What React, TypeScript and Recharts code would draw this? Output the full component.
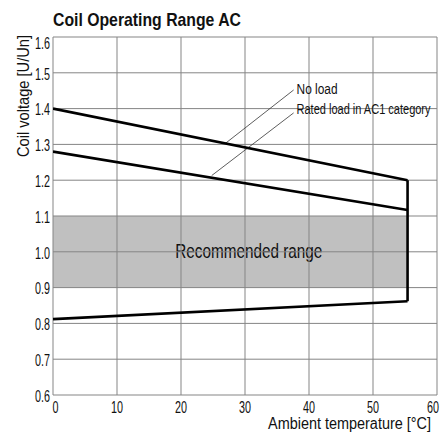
import React from "react";
import {
  LineChart,
  Line,
  XAxis,
  YAxis,
  ReferenceArea,
  ReferenceLine,
  ReferenceDot,
} from "recharts";

const xTicks = [0, 10, 20, 30, 40, 50, 60];
const yTicks = [0.6, 0.7, 0.8, 0.9, 1.0, 1.1, 1.2, 1.3, 1.4, 1.5, 1.6];

const noLoad = [
  { t: 0, v: 1.4 },
  { t: 55.4, v: 1.2 },
];
const ratedLoad = [
  { t: 0, v: 1.28 },
  { t: 55.4, v: 1.117 },
];
const lowerLimit = [
  { t: 0, v: 0.812 },
  { t: 55.4, v: 0.862 },
];
const rightEdge = [
  { t: 55.4, v: 1.2 },
  { t: 55.4, v: 0.862 },
];

const recommended = { t1: 0, t2: 55.4, v1: 0.9, v2: 1.1 };

const FONT = "'Liberation Sans', Arial, sans-serif";
const GRID = "#858585";
const INK = "#111";

const XTick = (props: any) => {
  const { x, y, payload } = props;
  const v = payload.value;
  const anchor = v === 0 ? "start" : v === 60 ? "end" : "middle";
  const dx = v === 0 ? -0.5 : v === 60 ? 3 : 0;
  const len = String(v).length === 1 ? 6 : 12;
  return (
    <text
      x={x + dx}
      y={y + 18}
      textAnchor={anchor}
      fontFamily={FONT}
      fontSize={16}
      fill={INK}
      textLength={len}
      lengthAdjust="spacingAndGlyphs"
    >
      {v}
    </text>
  );
};

const YTick = (props: any) => {
  const { x, y, payload } = props;
  const v = payload.value;
  const dy = v === 1.6 ? 6 : 1;
  return (
    <text
      x={x}
      y={y + dy}
      dy="0.36em"
      textAnchor="end"
      fontFamily={FONT}
      fontSize={16}
      fill={INK}
      textLength={15}
      lengthAdjust="spacingAndGlyphs"
    >
      {v.toFixed(1)}
    </text>
  );
};

const CenterLabel = (props: any) => {
  const vb = props.viewBox || {};
  return (
    <text
      x={vb.x + vb.width / 2}
      y={vb.y + vb.height / 2}
      dy="0.36em"
      textAnchor="middle"
      fontFamily={FONT}
      fontSize={20}
      fill={INK}
      textLength={147}
      lengthAdjust="spacingAndGlyphs"
    >
      {props.value}
    </text>
  );
};

const RightLabel = (props: any) => {
  const vb = props.viewBox || {};
  return (
    <text
      x={vb.x + 1}
      y={vb.y}
      dy="0.36em"
      textAnchor="start"
      fontFamily={FONT}
      fontSize={14}
      fill={INK}
      textLength={props.len}
      lengthAdjust="spacingAndGlyphs"
    >
      {props.value}
    </text>
  );
};

export default function App() {
  return (
    <div style={{ position: "absolute", left: 0, top: 0, width: 444, height: 435, background: "#fff" }}>
      <LineChart width={444} height={435} margin={{ top: 37, right: 7, bottom: 0, left: 0 }}>
        <XAxis
          type="number"
          dataKey="t"
          domain={[0, 60]}
          ticks={xTicks}
          tick={<XTick />}
          tickLine={false}
          axisLine={false}
          tickSize={0}
          tickMargin={0}
          height={40}
          allowDataOverflow
        />
        <YAxis
          type="number"
          dataKey="v"
          domain={[0.6, 1.6]}
          ticks={yTicks}
          tick={<YTick />}
          tickLine={false}
          axisLine={false}
          tickSize={0}
          tickMargin={3}
          width={53}
          allowDataOverflow
        />
        <ReferenceArea
          x1={recommended.t1}
          x2={recommended.t2}
          y1={recommended.v1}
          y2={recommended.v2}
          fill="#c0c0c0"
          fillOpacity={1}
          stroke="none"
        />
        {xTicks.map((t) => (
          <ReferenceLine key={"gx" + t} x={t} stroke={GRID} strokeWidth={1} ifOverflow="visible" />
        ))}
        {yTicks.map((v) => (
          <ReferenceLine key={"gy" + v} y={v} stroke={GRID} strokeWidth={1} ifOverflow="visible" />
        ))}
        <ReferenceArea
          x1={17.7}
          x2={43.5}
          y1={0.958}
          y2={1.05}
          fill="#c0c0c0"
          fillOpacity={1}
          stroke="none"
          label={<CenterLabel value="Recommended range" />}
        />
        <ReferenceArea x1={37.4} x2={59.3} y1={1.365} y2={1.483} fill="#fff" fillOpacity={1} stroke="none" />
        <ReferenceLine
          segment={[
            { x: 37.6, y: 1.452 },
            { x: 26.95, y: 1.303 },
          ]}
          stroke="#333"
          strokeWidth={0.8}
        />
        <ReferenceLine
          segment={[
            { x: 37.6, y: 1.388 },
            { x: 24.8, y: 1.213 },
          ]}
          stroke="#333"
          strokeWidth={0.8}
        />
        <ReferenceDot
          x={37.9}
          y={1.455}
          r={0}
          stroke="none"
          fill="none"
          label={<RightLabel value="No load" len={41} />}
        />
        <ReferenceDot
          x={37.9}
          y={1.399}
          r={0}
          stroke="none"
          fill="none"
          label={<RightLabel value="Rated load in AC1 category" len={134} />}
        />
        <Line data={noLoad} dataKey="v" stroke="#000" strokeWidth={2.6} dot={false} isAnimationActive={false} />
        <Line data={ratedLoad} dataKey="v" stroke="#000" strokeWidth={2.6} dot={false} isAnimationActive={false} />
        <Line data={lowerLimit} dataKey="v" stroke="#000" strokeWidth={2.6} dot={false} isAnimationActive={false} />
        <Line data={rightEdge} dataKey="v" stroke="#000" strokeWidth={2.6} dot={false} isAnimationActive={false} />
      </LineChart>
      <svg
        width={444}
        height={435}
        style={{ position: "absolute", left: 0, top: 0, pointerEvents: "none" }}
      >
        <text
          x={53}
          y={26}
          fontFamily={FONT}
          fontWeight="bold"
          fontSize={19}
          fill={INK}
          textLength={188}
          lengthAdjust="spacingAndGlyphs"
        >
          Coil Operating Range AC
        </text>
        <text
          x={29}
          y={35}
          textAnchor="end"
          transform="rotate(-90 29 35)"
          fontFamily={FONT}
          fontSize={17}
          fill={INK}
          textLength={122}
          lengthAdjust="spacingAndGlyphs"
        >
          Coil voltage [U/Un]
        </text>
        <text
          x={431}
          y={429}
          textAnchor="end"
          fontFamily={FONT}
          fontSize={16}
          fill={INK}
          textLength={163}
          lengthAdjust="spacingAndGlyphs"
        >
          Ambient temperature [°C]
        </text>
      </svg>
    </div>
  );
}
